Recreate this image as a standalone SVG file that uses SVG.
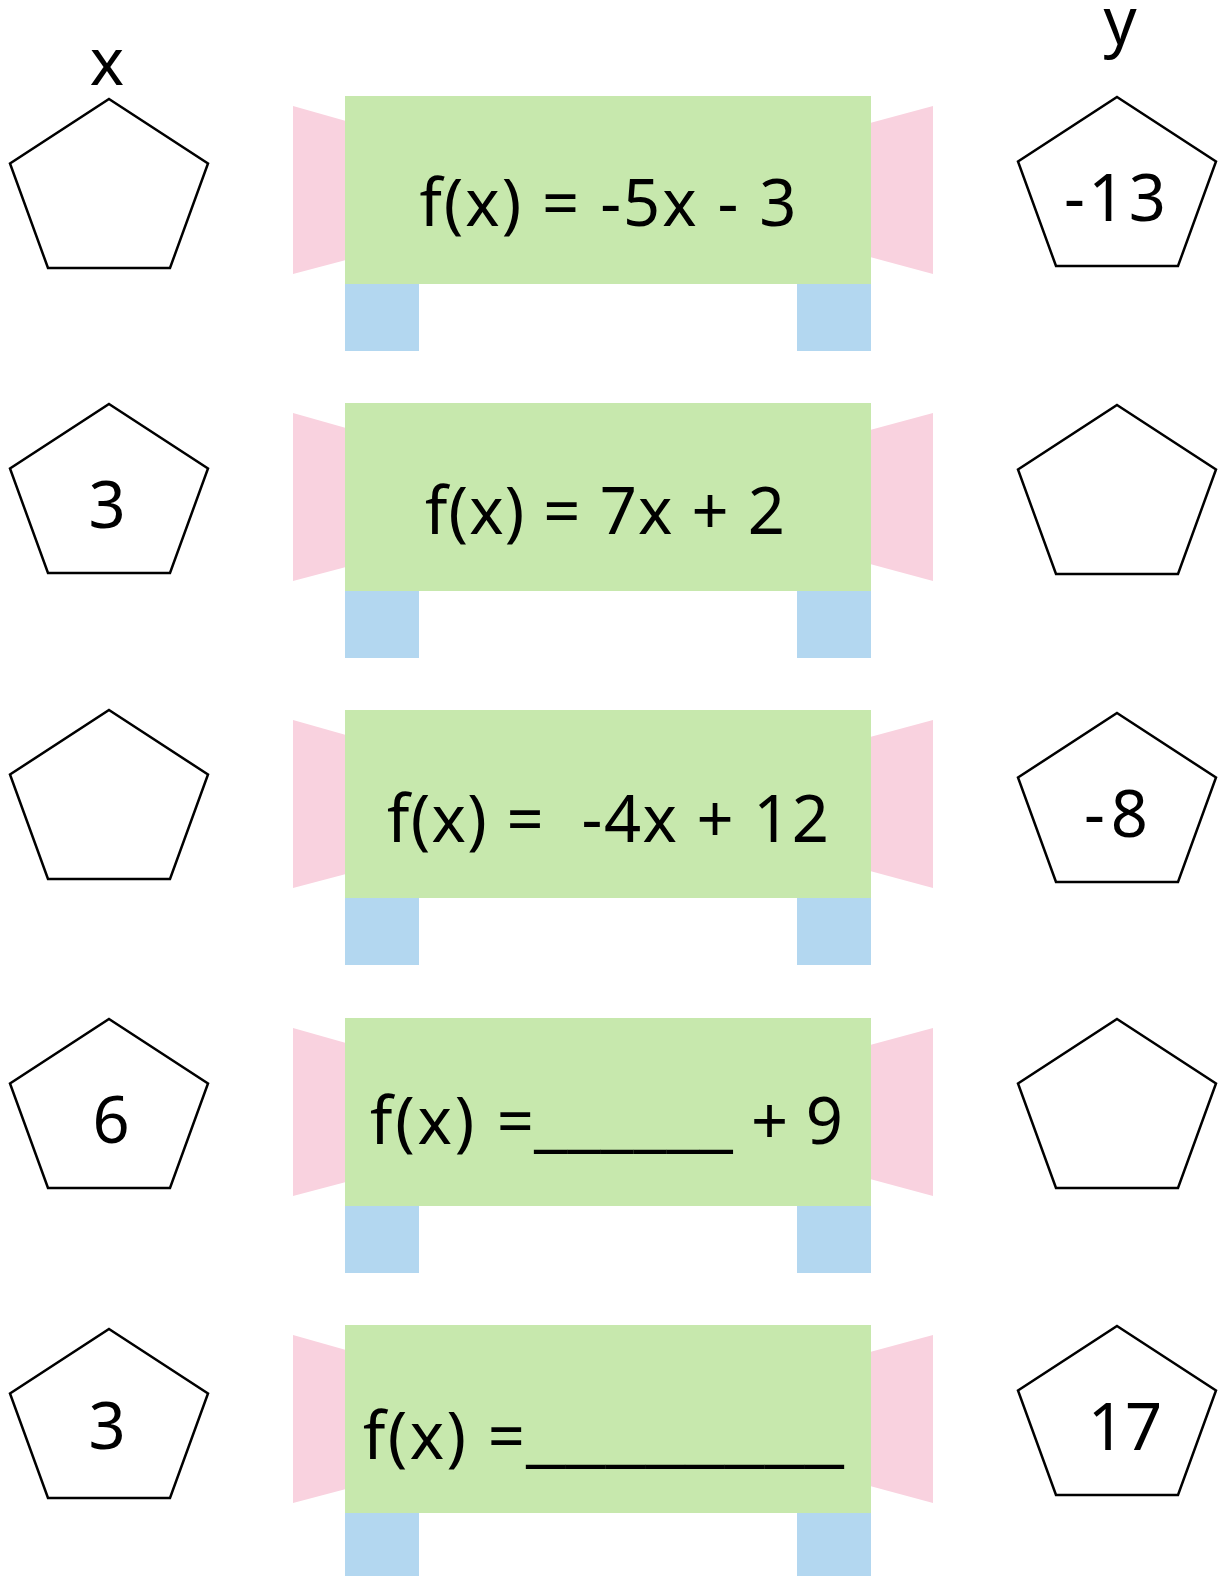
<svg xmlns="http://www.w3.org/2000/svg" width="1218" height="1576" viewBox="0 0 1218 1576">
<style>
.bg{fill:#ffffff}
.green{fill:#c7e8ad}
.pink{fill:#f9d2df}
.blue{fill:#b3d7f0}
.pent{fill:#ffffff;stroke:#000000;stroke-width:2.5;stroke-linejoin:miter}
.t{font-family:"Noto Sans","Open Sans",sans-serif;font-size:65px;fill:#000000}
.m{text-anchor:middle}
</style>
<defs>
<g id="machine">
<polygon class="pink" points="293,10 346,25 346,164 293,178"/>
<polygon class="pink" points="870,27 933,10 933,178 870,161"/>
<rect class="blue" x="345" y="184" width="74" height="71"/>
<rect class="blue" x="797" y="184" width="74" height="71"/>
<rect class="green" x="345" y="0" width="526" height="188"/>
</g>
<polygon id="pent" class="pent" points="99,0 198,64.5 160,169 38,169 0,64.5" transform="translate(10,0)"/>
</defs>
<rect class="bg" x="0" y="0" width="1218" height="1576"/>

<g id="labels">
<text class="t m" x="107" y="85">x</text>
<text class="t m" x="1120" y="44">y</text>
</g>

<g id="row1">
<use href="#machine" y="96"/>
<g id="x1"><use href="#pent" y="99"/></g>
<g id="y1"><use href="#pent" x="1008" y="97"/><text class="t m" x="1115" y="221" textLength="102">-13</text></g>
<text class="t m" x="608" y="226" textLength="377">f(x) = -5x - 3</text>
</g>

<g id="row2">
<use href="#machine" y="403"/>
<g id="x2"><use href="#pent" y="404"/><text class="t m" x="107" y="528">3</text></g>
<g id="y2"><use href="#pent" x="1008" y="405"/></g>
<text class="t m" x="605" y="534" textLength="360">f(x) = 7x + 2</text>
</g>

<g id="row3">
<use href="#machine" y="710"/>
<g id="x3"><use href="#pent" y="710"/></g>
<g id="y3"><use href="#pent" x="1008" y="713"/><text class="t m" x="1116" y="837" textLength="64">-8</text></g>
<text class="t m" x="608" y="842" textLength="442" xml:space="preserve">f(x) =  -4x + 12</text>
</g>

<g id="row4">
<use href="#machine" y="1018"/>
<g id="x4"><use href="#pent" y="1019"/><text class="t m" x="111" y="1143">6</text></g>
<g id="y4"><use href="#pent" x="1008" y="1019"/></g>
<text class="t" x="370" y="1144" textLength="164">f(x) =</text>
<text class="t" x="534" y="1144" textLength="199" lengthAdjust="spacingAndGlyphs">______</text>
<text class="t" x="751" y="1144" textLength="92">+ 9</text>
</g>

<g id="row5">
<use href="#machine" y="1325"/>
<g id="x5"><use href="#pent" y="1329"/><text class="t m" x="107" y="1449">3</text></g>
<g id="y5"><use href="#pent" x="1008" y="1326"/><text class="t m" x="1125" y="1450">17</text></g>
<text class="t" x="363" y="1459" textLength="162">f(x) =</text>
<text class="t" x="526" y="1459" textLength="318" lengthAdjust="spacingAndGlyphs">________</text>
</g>

<g id="connectors"></g>
</svg>
